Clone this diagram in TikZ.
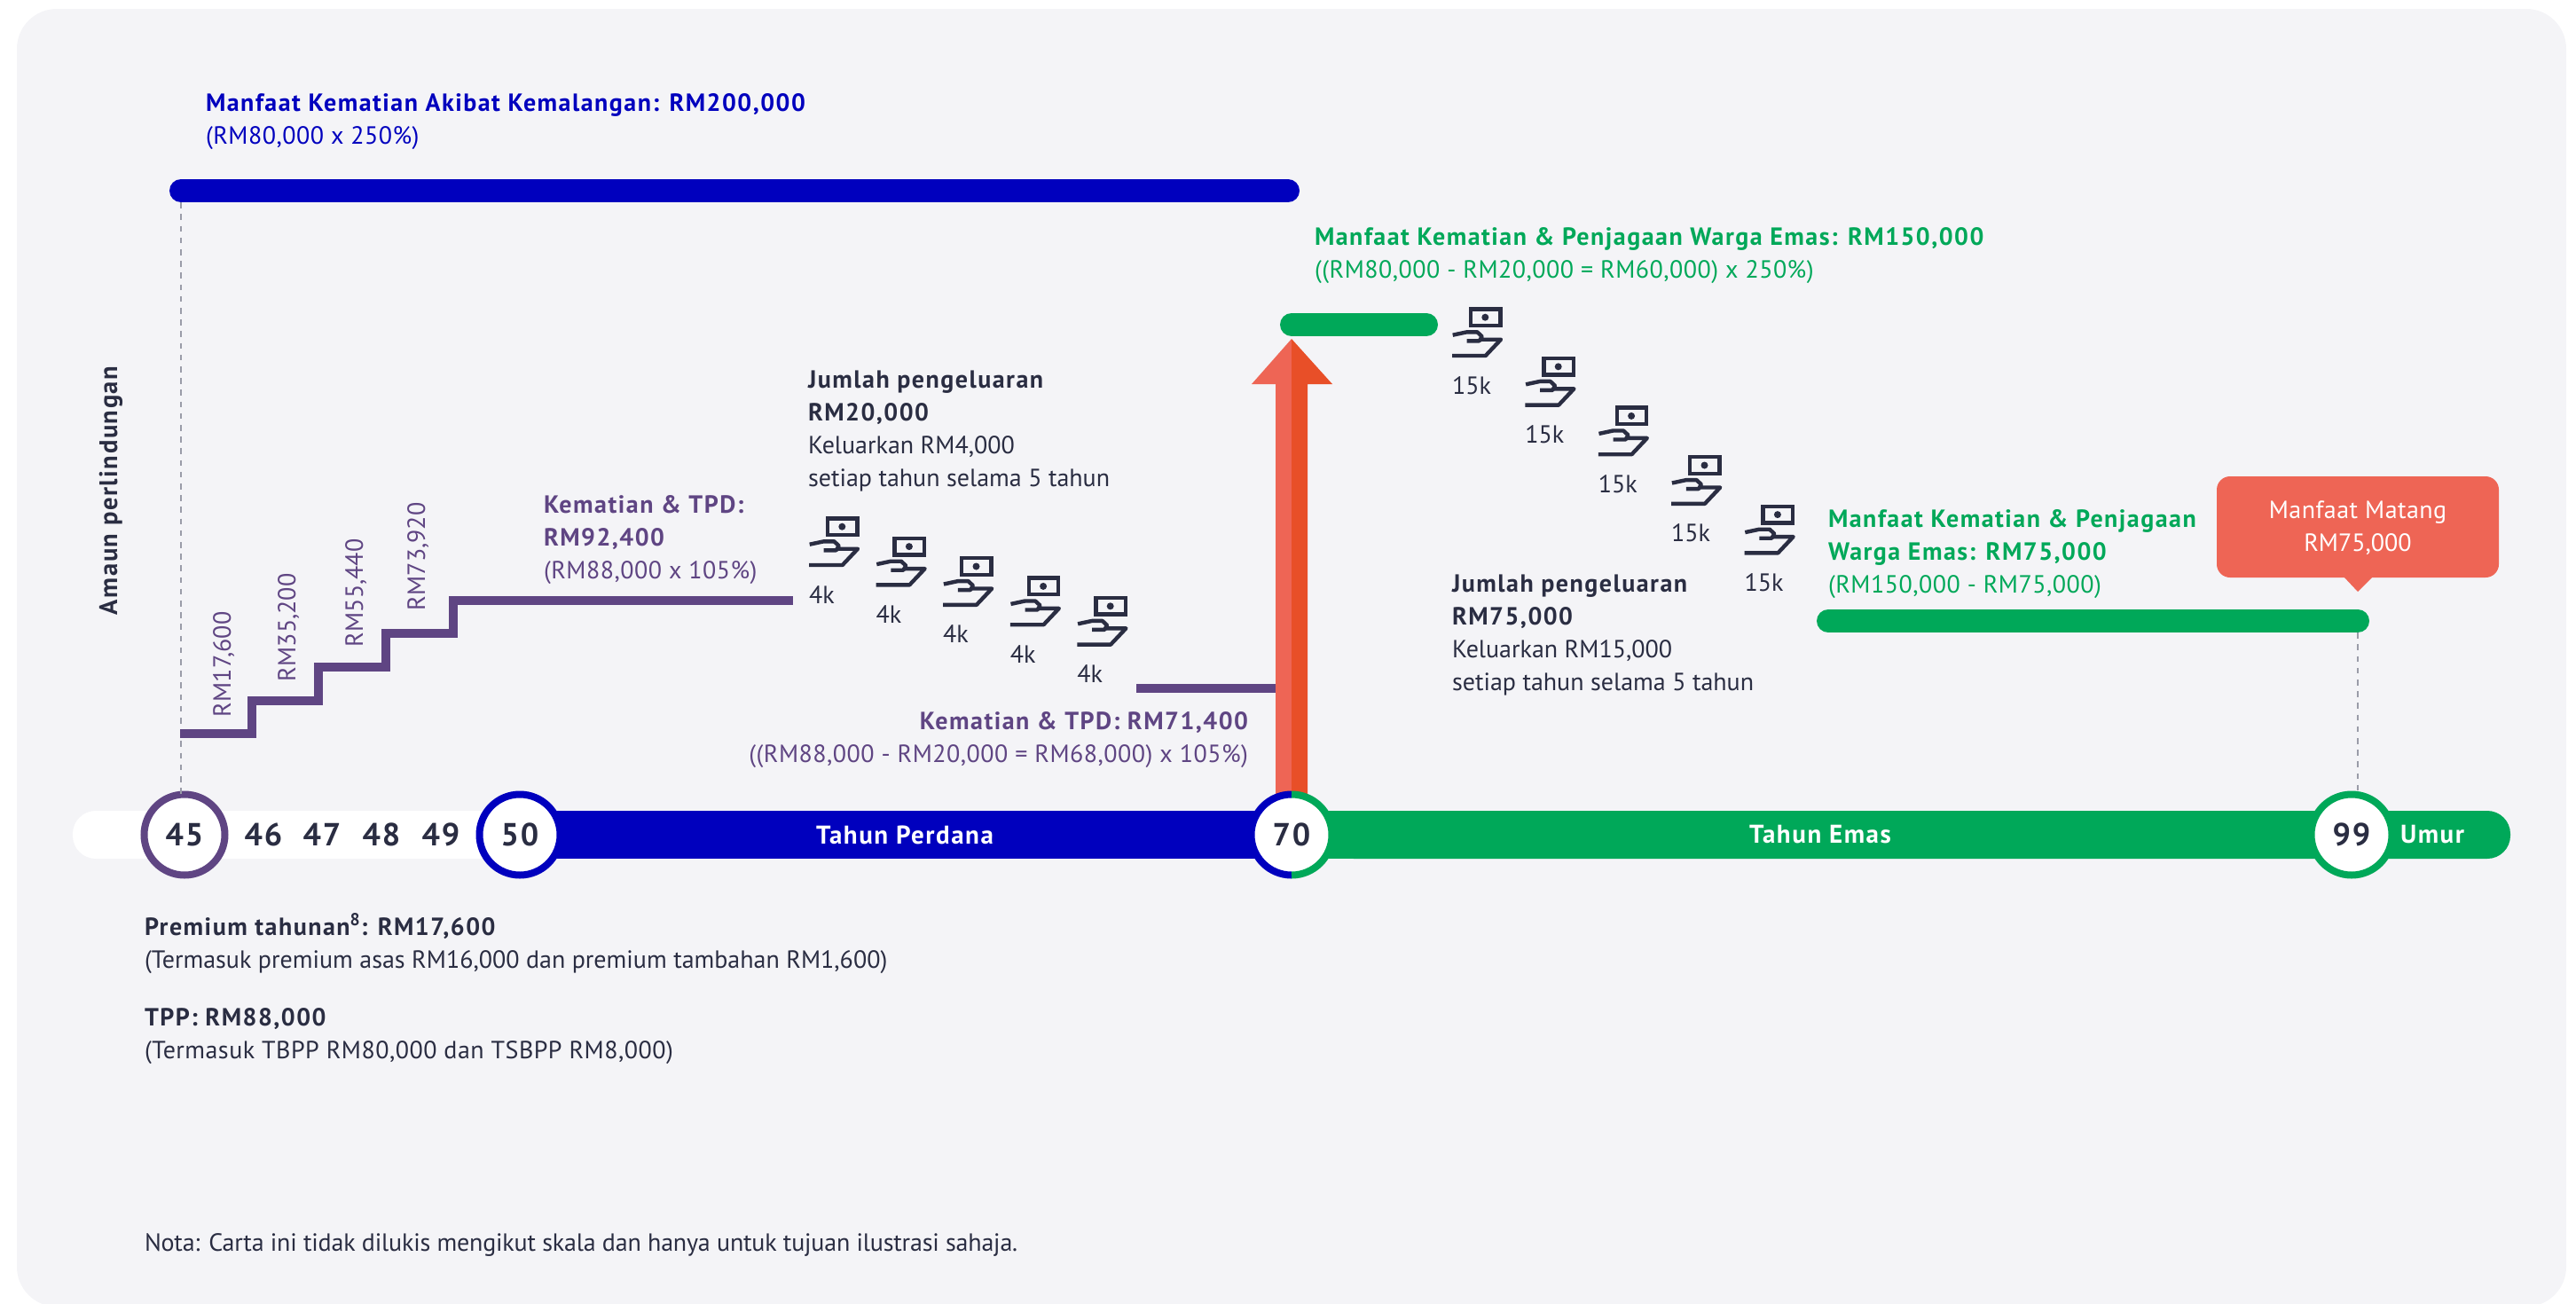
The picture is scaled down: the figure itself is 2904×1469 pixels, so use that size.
\documentclass[tikz,border=0pt]{standalone}
\usepackage{fontspec}
\setmainfont[BoldFeatures={LetterSpace=5.3}]{PT Sans}
\newfontfamily\widefont[LetterSpace=1.7]{PT Sans}
\newfontfamily\tightfont[LetterSpace=-0.7]{PT Sans}
\usepackage{tikz}
\definecolor{panelgrey}{HTML}{F4F4F7}
\definecolor{inkdark}{HTML}{2A2D42}
\definecolor{perdanablue}{HTML}{0000BE}
\definecolor{emasgreen}{HTML}{00A859}
\definecolor{tpdpurple}{HTML}{5F4583}
\definecolor{matangred}{HTML}{EE6555}
\definecolor{arroworange}{HTML}{E84F28}
\definecolor{dashgrey}{HTML}{9A9CA8}
\tikzset{
  pics/cashhand/.style={code={
    \draw[inkdark,line width=2.2pt] (21,2.3) rectangle (54.3,21);
    \fill[inkdark] (37.3,11.7) circle (2pt);
    \draw[inkdark,line width=2.2pt,line join=round] (0.7,31.7) -- (16.7,28.3) -- (28.3,28.3) -- (33.7,33.3) -- (30.7,38.3) -- (16.7,38.3);
    \draw[inkdark,line width=2.2pt,line join=round] (32,36.7) -- (55,36.7) -- (37.7,55) -- (0,55);
  }}
}
\begin{document}
\begin{tikzpicture}[x=0.5pt,y=-0.5pt]
    \tikzstyle{every node}=[inner sep=0pt, outer sep=0pt]
    \tikzstyle{txt}=[anchor=base west, align=left, font=\fontsize{14}{18.5}\selectfont]
    \tikzstyle{txtr}=[anchor=base east, align=right, font=\fontsize{14}{18.5}\selectfont]
    \tikzstyle{stairlabel}=[anchor=base west, rotate=90, font=\fontsize{14}{18.5}\selectfont, text=tpdpurple]
    \tikzstyle{age}=[circle, fill=white, line width=4pt, minimum size=45.5pt, text=inkdark, font=\fontsize{18}{20}\selectfont\bfseries]
    \tikzstyle{plainage}=[text=inkdark, font=\fontsize{18}{20}\selectfont\bfseries]
    \tikzstyle{barlabel}=[text=white, font=\fontsize{14.5}{18.5}\selectfont\bfseries]
    \tikzstyle{dropline}=[dashgrey, line width=1pt, dash pattern=on 3.3pt off 3.3pt]
    \tikzstyle{pill}=[line width=13pt, line cap=round]
    \tikzstyle{stair}=[tpdpurple, line width=5.2pt]
    \useasboundingbox (0,0) rectangle (2904,1469);

    % panel
    \fill[panelgrey, rounded corners=22.5pt] (19,10) rectangle (2893,1473);

    % named ends
    \coordinate (topstart) at (204,215);
    \coordinate (topend) at (1452,215);
    \coordinate (midstart) at (1456,366);
    \coordinate (midend) at (1608,366);
    \coordinate (lowstart) at (2061,700);
    \coordinate (lowend) at (2658,700);
    \coordinate (callouttip) at (2658,667);

    % age bars
    \fill[white, rounded corners=13pt] (82,914) rectangle (640,968);
    \fill[perdanablue] (586,914) rectangle (1456,968);
    \fill[emasgreen, rounded corners=13pt] (1500,914) rectangle (2830,968);
    \fill[emasgreen] (1456,914) rectangle (1600,968);

    % red arrow
    \fill[matangred] (1456,382) -- (1411,433) -- (1438,433) -- (1438,900) -- (1456,900) -- cycle;
    \fill[arroworange] (1456,382) -- (1502,433) -- (1474,433) -- (1474,900) -- (1456,900) -- cycle;

    % ages
    \node[age, draw=tpdpurple] (age45) at (208,941) {45};
    \node[plainage] (age46) at (297,941) {46};
    \node[plainage] (age47) at (363,941) {47};
    \node[plainage] (age48) at (430,941) {48};
    \node[plainage] (age49) at (497,941) {49};
    \node[age, draw=perdanablue] (age50) at (586,941) {50};
    \node[age] (age70) at (1456,941) {70};
    \draw[perdanablue, line width=4pt] (age70.north) arc (90:270:22.75pt);
    \draw[emasgreen, line width=4pt] (age70.north) arc (90:-90:22.75pt);
    \node[age, draw=emasgreen] (age99) at (2651,941) {99};
    \node[barlabel] (perdana) at (1020,941) {Tahun Perdana};
    \node[barlabel] (emas) at (2052,941) {Tahun Emas};
    \node[barlabel] (umur) at (2742,941) {Umur};

    % dashed drops
    \draw[dropline] (topstart) -- (age45.north -| topstart);
    \draw[dropline] (lowend) -- (age99.north -| lowend);

    % pills
    \draw[pill, perdanablue] (topstart) -- (topend);
    \draw[pill, emasgreen] (midstart) -- (midend);
    \draw[pill, emasgreen] (lowstart) -- (lowend);

    % stairs
    \coordinate (stair0) at (203,827);
    \coordinate (stair1) at (894,677);
    \draw[stair] (stair0) -- (284,827) -- (284,790) -- (359,790) -- (359,752) -- (435,752) -- (435,714) -- (511,714) -- (511,677) -- (stair1);
    \coordinate (drop0) at (1281,776);
    \coordinate (drop1) at (1438,776);
    \draw[stair] (drop0) -- (drop1);
    \node[stairlabel] (s1) at (260,808) {RM17,600};
    \node[stairlabel] (s2) at (333,768) {RM35,200};
    \node[stairlabel] (s3) at (409,729) {RM55,440};
    \node[stairlabel] (s4) at (479,688) {RM73,920};
    \node[stairlabel, text=inkdark, font=\fontsize{14.3}{18.5}\selectfont\bfseries] (amaun) at (132,693) {Amaun perlindungan};

    % icons
    \foreach \i in {0,...,4} {
        \pic at (912+75.6*\i,582+22.4*\i) {cashhand};
        \node[txt, text=inkdark] (fourk\i) at (912+75.6*\i,680+22.4*\i) {4k};
        \pic at (1637+82.4*\i,346+55.6*\i) {cashhand};
        \node[txt, text=inkdark] (fifteenk\i) at (1637+82.4*\i,444+55.6*\i) {15k};
    }

    % callout
    \fill[matangred, rounded corners=7.5pt] (2499,537) rectangle (2817,651);
    \fill[matangred] (2642,650) -- (callouttip) -- (2675,650) -- cycle;
    \node[txt, anchor=base, align=center, text=white] (matang) at (2658,621) {{\widefont Manfaat Matang}\\RM75,000};

    % texts (node position = baseline of the last line)
    \node[txt, text=perdanablue] (adb) at (232,162) {{\bfseries Manfaat Kematian Akibat Kemalangan: RM200,000}\\{\widefont (RM80,000 x 250\%)}};
    \node[txt, text=emasgreen] (wm1) at (1482,313) {{\bfseries Manfaat Kematian \& Penjagaan Warga Emas: RM150,000}\\{\widefont ((RM80,000 - RM20,000 = RM60,000) x 250\%)}};
    \node[txt, text=inkdark] (jum1) at (911,548) {{\bfseries Jumlah pengeluaran}\\{\bfseries RM20,000}\\Keluarkan RM4,000\\setiap tahun selama 5 tahun};
    \node[txt, text=tpdpurple] (tpd1) at (613,652) {{\bfseries Kematian \& TPD:}\\{\bfseries RM92,400}\\{\widefont (RM88,000 x 105\%)}};
    \node[txtr, text=tpdpurple] (tpd2) at (1407,859) {{\bfseries Kematian \& TPD: RM71,400}\\{\widefont ((RM88,000 - RM20,000 = RM68,000) x 105\%)}};
    \node[txt, text=inkdark] (jum2) at (1637,778) {{\bfseries Jumlah pengeluaran}\\{\bfseries RM75,000}\\Keluarkan RM15,000\\setiap tahun selama 5 tahun};
    \node[txt, text=emasgreen] (wm2) at (2061,668) {{\bfseries Manfaat Kematian \& Penjagaan}\\{\bfseries Warga Emas: RM75,000}\\{\widefont (RM150,000 - RM75,000)}};
    \node[txt, text=inkdark] (prem) at (163,1091) {{\bfseries Premium tahunan\textsuperscript{8}: RM17,600}\\(Termasuk premium asas RM16,000 dan premium tambahan RM1,600)};
    \node[txt, text=inkdark] (tpp) at (163,1193) {{\bfseries TPP: RM88,000}\\{\widefont (Termasuk TBPP RM80,000 dan TSBPP RM8,000)}};
    \node[txt, text=inkdark] (nota) at (163,1410) {{\tightfont Nota: Carta ini tidak dilukis mengikut skala dan hanya untuk tujuan ilustrasi sahaja.}};
\end{tikzpicture}
\end{document}
